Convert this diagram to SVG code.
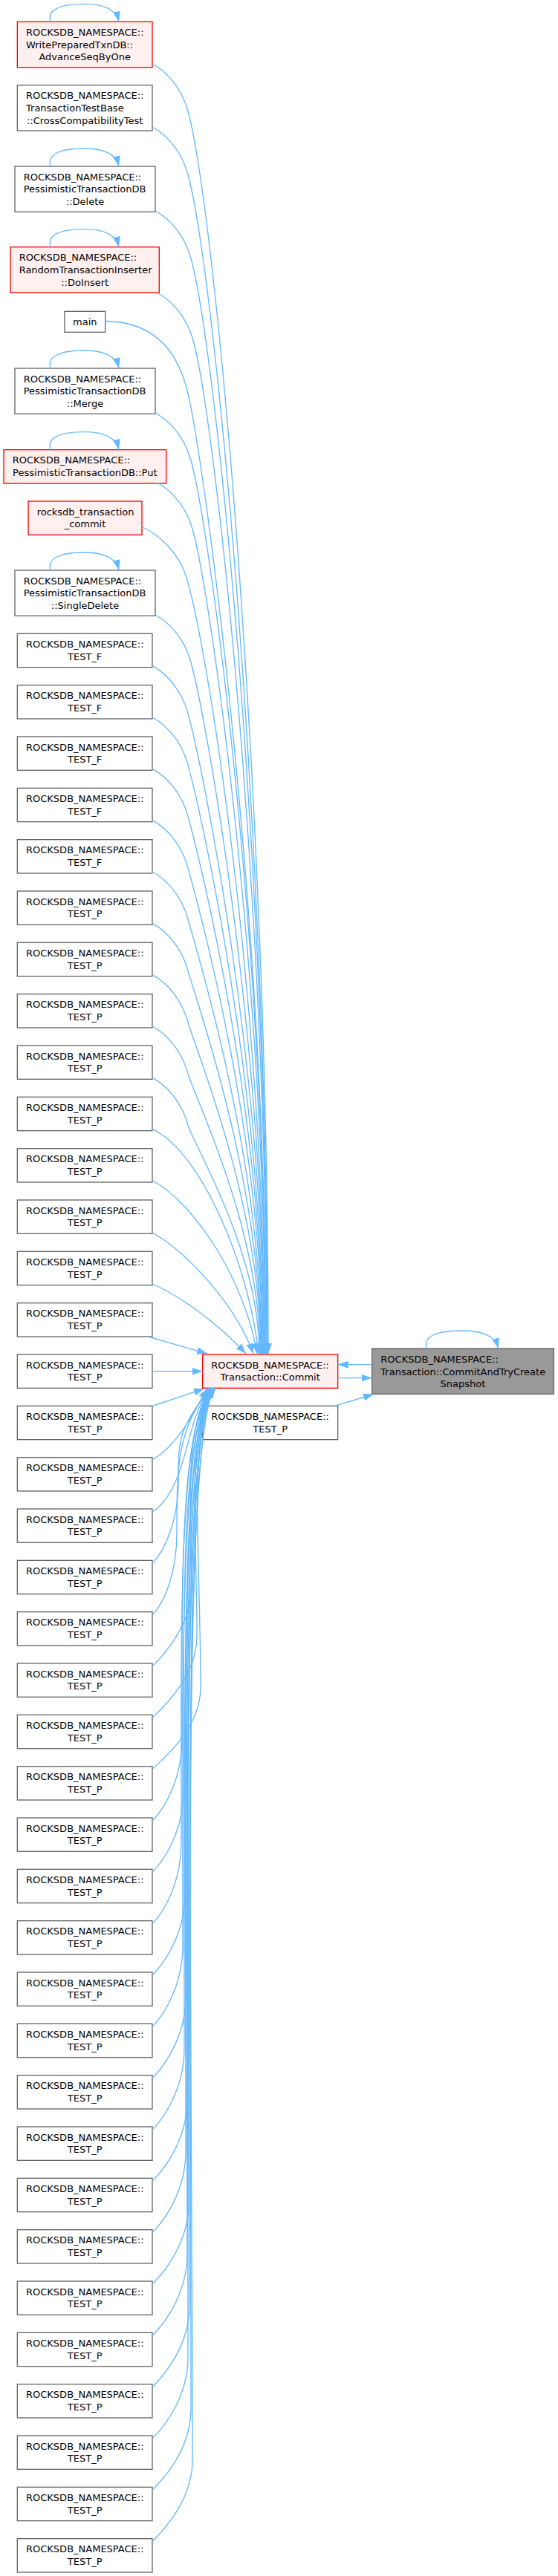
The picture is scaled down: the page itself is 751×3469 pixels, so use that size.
<svg xmlns="http://www.w3.org/2000/svg" width="751" height="3469" viewBox="0 0 751 3469">
<style>
.n{fill:#ffffff;stroke:#666666;stroke-width:1.33}
.r{fill:#fff0f0;stroke:#ff0000;stroke-width:1.33}
.g{fill:#999999;stroke:#666666;stroke-width:1.33}
text{font-family:"DejaVu Sans",sans-serif;font-size:13px;fill:#000000}
.m{text-anchor:middle}
.e{fill:none;stroke:#63b8ff;stroke-width:1.33;marker-end:url(#ah)}
</style>
<defs>
<marker id="ah" markerUnits="userSpaceOnUse" markerWidth="14" markerHeight="10" viewBox="0 0 14 10" refX="14" refY="5" orient="auto">
<path d="M0,0 L14,5 L0,10 z" fill="#63b8ff"/>
</marker>
</defs>
<rect width="751" height="3469" fill="#ffffff"/>

<g id="nodes">
<g id="advance"><rect class="r" x="23.33" y="29.33" width="181.67" height="61.33"/><text x="35" y="47.8">ROCKSDB_NAMESPACE::</text><text x="35" y="64.6">WritePreparedTxnDB::</text><text class="m" x="114.17" y="81.3">AdvanceSeqByOne</text></g>
<g id="crosscompat"><rect class="n" x="23.33" y="114.67" width="181.67" height="61.33"/><text x="35" y="133.2">ROCKSDB_NAMESPACE::</text><text x="35" y="149.9">TransactionTestBase</text><text class="m" x="114.17" y="166.7">::CrossCompatibilityTest</text></g>
<g id="delete"><rect class="n" x="20" y="224" width="189" height="61.33"/><text x="31.67" y="242.5">ROCKSDB_NAMESPACE::</text><text x="31.67" y="259.25">PessimisticTransactionDB</text><text class="m" x="114.5" y="276">::Delete</text></g>
<g id="doinsert"><rect class="r" x="14" y="332.67" width="200.33" height="61.33"/><text x="25.67" y="351.2">ROCKSDB_NAMESPACE::</text><text x="25.67" y="367.9">RandomTransactionInserter</text><text class="m" x="114.17" y="384.7">::DoInsert</text></g>
<g id="main"><rect class="n" x="87" y="419.33" width="54.67" height="28"/><text class="m" x="114.33" y="437.6">main</text></g>
<g id="merge"><rect class="n" x="20" y="496" width="189" height="61.33"/><text x="31.67" y="514.5">ROCKSDB_NAMESPACE::</text><text x="31.67" y="531.25">PessimisticTransactionDB</text><text class="m" x="114.5" y="548">::Merge</text></g>
<g id="put"><rect class="r" x="5" y="605.67" width="218.67" height="45.33"/><text x="16.67" y="624.3">ROCKSDB_NAMESPACE::</text><text class="m" x="114.33" y="641">PessimisticTransactionDB::Put</text></g>
<g id="rtc"><rect class="r" x="38" y="675" width="153" height="45.33"/><text x="49.67" y="693.6">rocksdb_transaction</text><text class="m" x="114.5" y="710.35">_commit</text></g>
<g id="singledelete"><rect class="n" x="20" y="768" width="189" height="61.33"/><text x="31.67" y="786.5">ROCKSDB_NAMESPACE::</text><text x="31.67" y="803.25">PessimisticTransactionDB</text><text class="m" x="114.5" y="820">::SingleDelete</text></g>

<g id="t0"><rect class="n" x="23.33" y="853.33" width="181.67" height="45.33"/><text x="35" y="871.9">ROCKSDB_NAMESPACE::</text><text class="m" x="114.17" y="888.7">TEST_F</text></g>
<g id="t1"><rect class="n" x="23.33" y="922.67" width="181.67" height="45.33"/><text x="35" y="941.3">ROCKSDB_NAMESPACE::</text><text class="m" x="114.17" y="958">TEST_F</text></g>
<g id="t2"><rect class="n" x="23.33" y="992" width="181.67" height="45.33"/><text x="35" y="1010.6">ROCKSDB_NAMESPACE::</text><text class="m" x="114.17" y="1027.35">TEST_F</text></g>
<g id="t3"><rect class="n" x="23.33" y="1061.33" width="181.67" height="45.33"/><text x="35" y="1079.9">ROCKSDB_NAMESPACE::</text><text class="m" x="114.17" y="1096.7">TEST_F</text></g>
<g id="t4"><rect class="n" x="23.33" y="1130.67" width="181.67" height="45.33"/><text x="35" y="1149.3">ROCKSDB_NAMESPACE::</text><text class="m" x="114.17" y="1166">TEST_F</text></g>
<g id="t5"><rect class="n" x="23.33" y="1200" width="181.67" height="45.33"/><text x="35" y="1218.6">ROCKSDB_NAMESPACE::</text><text class="m" x="114.17" y="1235.35">TEST_P</text></g>
<g id="t6"><rect class="n" x="23.33" y="1269.33" width="181.67" height="45.33"/><text x="35" y="1287.9">ROCKSDB_NAMESPACE::</text><text class="m" x="114.17" y="1304.7">TEST_P</text></g>
<g id="t7"><rect class="n" x="23.33" y="1338.67" width="181.67" height="45.33"/><text x="35" y="1357.3">ROCKSDB_NAMESPACE::</text><text class="m" x="114.17" y="1374">TEST_P</text></g>
<g id="t8"><rect class="n" x="23.33" y="1408" width="181.67" height="45.33"/><text x="35" y="1426.6">ROCKSDB_NAMESPACE::</text><text class="m" x="114.17" y="1443.35">TEST_P</text></g>
<g id="t9"><rect class="n" x="23.33" y="1477.33" width="181.67" height="45.33"/><text x="35" y="1495.9">ROCKSDB_NAMESPACE::</text><text class="m" x="114.17" y="1512.7">TEST_P</text></g>
<g id="t10"><rect class="n" x="23.33" y="1546.67" width="181.67" height="45.33"/><text x="35" y="1565.3">ROCKSDB_NAMESPACE::</text><text class="m" x="114.17" y="1582">TEST_P</text></g>
<g id="t11"><rect class="n" x="23.33" y="1616" width="181.67" height="45.33"/><text x="35" y="1634.6">ROCKSDB_NAMESPACE::</text><text class="m" x="114.17" y="1651.35">TEST_P</text></g>
<g id="t12"><rect class="n" x="23.33" y="1685.33" width="181.67" height="45.33"/><text x="35" y="1703.9">ROCKSDB_NAMESPACE::</text><text class="m" x="114.17" y="1720.7">TEST_P</text></g>
<g id="t13"><rect class="n" x="23.33" y="1754.67" width="181.67" height="45.33"/><text x="35" y="1773.3">ROCKSDB_NAMESPACE::</text><text class="m" x="114.17" y="1790">TEST_P</text></g>
<g id="t14"><rect class="n" x="23.33" y="1824" width="181.67" height="45.33"/><text x="35" y="1842.6">ROCKSDB_NAMESPACE::</text><text class="m" x="114.17" y="1859.35">TEST_P</text></g>
<g id="t15"><rect class="n" x="23.33" y="1893.33" width="181.67" height="45.33"/><text x="35" y="1911.9">ROCKSDB_NAMESPACE::</text><text class="m" x="114.17" y="1928.7">TEST_P</text></g>
<g id="t16"><rect class="n" x="23.33" y="1962.67" width="181.67" height="45.33"/><text x="35" y="1981.3">ROCKSDB_NAMESPACE::</text><text class="m" x="114.17" y="1998">TEST_P</text></g>
<g id="t17"><rect class="n" x="23.33" y="2032" width="181.67" height="45.33"/><text x="35" y="2050.6">ROCKSDB_NAMESPACE::</text><text class="m" x="114.17" y="2067.35">TEST_P</text></g>
<g id="t18"><rect class="n" x="23.33" y="2101.33" width="181.67" height="45.33"/><text x="35" y="2119.9">ROCKSDB_NAMESPACE::</text><text class="m" x="114.17" y="2136.7">TEST_P</text></g>
<g id="t19"><rect class="n" x="23.33" y="2170.67" width="181.67" height="45.33"/><text x="35" y="2189.3">ROCKSDB_NAMESPACE::</text><text class="m" x="114.17" y="2206">TEST_P</text></g>
<g id="t20"><rect class="n" x="23.33" y="2240" width="181.67" height="45.33"/><text x="35" y="2258.6">ROCKSDB_NAMESPACE::</text><text class="m" x="114.17" y="2275.35">TEST_P</text></g>
<g id="t21"><rect class="n" x="23.33" y="2309.33" width="181.67" height="45.33"/><text x="35" y="2327.9">ROCKSDB_NAMESPACE::</text><text class="m" x="114.17" y="2344.7">TEST_P</text></g>
<g id="t22"><rect class="n" x="23.33" y="2378.67" width="181.67" height="45.33"/><text x="35" y="2397.3">ROCKSDB_NAMESPACE::</text><text class="m" x="114.17" y="2414">TEST_P</text></g>
<g id="t23"><rect class="n" x="23.33" y="2448" width="181.67" height="45.33"/><text x="35" y="2466.6">ROCKSDB_NAMESPACE::</text><text class="m" x="114.17" y="2483.35">TEST_P</text></g>
<g id="t24"><rect class="n" x="23.33" y="2517.33" width="181.67" height="45.33"/><text x="35" y="2535.9">ROCKSDB_NAMESPACE::</text><text class="m" x="114.17" y="2552.7">TEST_P</text></g>
<g id="t25"><rect class="n" x="23.33" y="2586.67" width="181.67" height="45.33"/><text x="35" y="2605.3">ROCKSDB_NAMESPACE::</text><text class="m" x="114.17" y="2622">TEST_P</text></g>
<g id="t26"><rect class="n" x="23.33" y="2656" width="181.67" height="45.33"/><text x="35" y="2674.6">ROCKSDB_NAMESPACE::</text><text class="m" x="114.17" y="2691.35">TEST_P</text></g>
<g id="t27"><rect class="n" x="23.33" y="2725.33" width="181.67" height="45.33"/><text x="35" y="2743.9">ROCKSDB_NAMESPACE::</text><text class="m" x="114.17" y="2760.7">TEST_P</text></g>
<g id="t28"><rect class="n" x="23.33" y="2794.67" width="181.67" height="45.33"/><text x="35" y="2813.3">ROCKSDB_NAMESPACE::</text><text class="m" x="114.17" y="2830">TEST_P</text></g>
<g id="t29"><rect class="n" x="23.33" y="2864" width="181.67" height="45.33"/><text x="35" y="2882.6">ROCKSDB_NAMESPACE::</text><text class="m" x="114.17" y="2899.35">TEST_P</text></g>
<g id="t30"><rect class="n" x="23.33" y="2933.33" width="181.67" height="45.33"/><text x="35" y="2951.9">ROCKSDB_NAMESPACE::</text><text class="m" x="114.17" y="2968.7">TEST_P</text></g>
<g id="t31"><rect class="n" x="23.33" y="3002.67" width="181.67" height="45.33"/><text x="35" y="3021.3">ROCKSDB_NAMESPACE::</text><text class="m" x="114.17" y="3038">TEST_P</text></g>
<g id="t32"><rect class="n" x="23.33" y="3072" width="181.67" height="45.33"/><text x="35" y="3090.6">ROCKSDB_NAMESPACE::</text><text class="m" x="114.17" y="3107.35">TEST_P</text></g>
<g id="t33"><rect class="n" x="23.33" y="3141.33" width="181.67" height="45.33"/><text x="35" y="3159.9">ROCKSDB_NAMESPACE::</text><text class="m" x="114.17" y="3176.7">TEST_P</text></g>
<g id="t34"><rect class="n" x="23.33" y="3210.67" width="181.67" height="45.33"/><text x="35" y="3229.3">ROCKSDB_NAMESPACE::</text><text class="m" x="114.17" y="3246">TEST_P</text></g>
<g id="t35"><rect class="n" x="23.33" y="3280" width="181.67" height="45.33"/><text x="35" y="3298.6">ROCKSDB_NAMESPACE::</text><text class="m" x="114.17" y="3315.35">TEST_P</text></g>
<g id="t36"><rect class="n" x="23.33" y="3349.33" width="181.67" height="45.33"/><text x="35" y="3367.9">ROCKSDB_NAMESPACE::</text><text class="m" x="114.17" y="3384.7">TEST_P</text></g>
<g id="t37"><rect class="n" x="23.33" y="3418.67" width="181.67" height="45.33"/><text x="35" y="3437.3">ROCKSDB_NAMESPACE::</text><text class="m" x="114.17" y="3454">TEST_P</text></g>

<g id="commit"><rect class="r" x="272.67" y="1824" width="182" height="45.33"/><text x="284.33" y="1842.6">ROCKSDB_NAMESPACE::</text><text class="m" x="363.67" y="1859.35">Transaction::Commit</text></g>
<g id="tmid"><rect class="n" x="272.67" y="1893.33" width="182" height="45.33"/><text x="284.33" y="1911.9">ROCKSDB_NAMESPACE::</text><text class="m" x="363.67" y="1928.7">TEST_P</text></g>
<g id="root"><rect class="g" x="500.67" y="1816" width="244.67" height="61.33"/><text x="512.33" y="1835">ROCKSDB_NAMESPACE::</text><text x="512.33" y="1851.5">Transaction::CommitAndTryCreate</text><text class="m" x="623" y="1868">Snapshot</text></g>
</g>

<g id="connectors">
<path class="e" d="M68,29.33 C63,13.33 80,5.33 114,5.33 C140,5.33 156,12.33 160,29.33"/>
<path class="e" d="M68,224 C63,208 80,200 114,200 C140,200 156,207 160,224"/>
<path class="e" d="M68,332.67 C63,316.67 80,308.67 114,308.67 C140,308.67 156,315.67 160,332.67"/>
<path class="e" d="M68,496 C63,480 80,472 114,472 C140,472 156,479 160,496"/>
<path class="e" d="M68,605.67 C63,589.67 80,581.67 114,581.67 C140,581.67 156,588.67 160,605.67"/>
<path class="e" d="M68,768 C63,752 80,744 114,744 C140,744 156,751 160,768"/>
<path class="e" d="M574.3,1816 C569,1800 586,1792 622.5,1792 C650,1792 666,1799 670.7,1816"/>

<path class="e" d="M500.67,1837.7 L454.67,1837.7"/>
<path class="e" d="M454.67,1855.7 L500.67,1855.7"/>
<path class="e" d="M450,1893.33 L503,1877.5"/>

<path class="e" d="M205,86 C227,98 245,121 253,150 C290,284 361,1070 361,1823"/>
<path class="e" d="M205,171 C227,183 245,206 253,235 C288,362 360,1108 360,1823"/>
<path class="e" d="M209,284 C231,296 249,319 257,348 C290,466 359.5,1159 359.5,1823"/>
<path class="e" d="M212,394.5 C234,406.5 252,429.5 260,458.5 C290,567.5 359,1209 359,1823"/>
<path class="e" d="M141.67,432.5 C200,433 238,465 253,530 C276.7,633 358,1241 358,1823"/>
<path class="e" d="M209,556 C231,568 249,591 257,620 C283.5,716 357.5,1282 357.5,1823"/>
<path class="e" d="M211.5,650 C233.5,662 251.5,685 259.5,714 C284,803 357,1324 357,1823"/>
<path class="e" d="M191,709.5 C215,720 240,745 250,775 C277.7,859 356,1351 356,1823"/>
<path class="e" d="M209,828 C231,840 249,863 257,892 C277.6,966.5 355.5,1404 355.5,1823"/>
<path class="e" d="M205,896.67 C227,908.67 245,931.67 253,960.67 C272,1029.7 355,1435 355,1823"/>
<path class="e" d="M205,966 C227,978 245,1001 253,1030 C270.5,1093.4 354,1466 354,1823"/>
<path class="e" d="M205,1035.33 C227,1047.33 245,1070.33 253,1099.33 C269,1157.2 353.5,1497.3 353.5,1823"/>
<path class="e" d="M205,1104.67 C227,1116.67 245,1139.67 253,1168.67 C267.4,1221 353,1528.6 353,1823"/>
<path class="e" d="M205,1174 C227,1186 245,1209 253,1238 C265.9,1284.8 352,1560 352,1823"/>
<path class="e" d="M205,1243.33 C227,1255.33 245,1278.33 253,1307.33 C264.4,1348.6 351.5,1591 351.5,1823"/>
<path class="e" d="M205,1312.67 C227,1324.67 245,1347.67 253,1376.67 C262.9,1412.4 351,1622.1 351,1823"/>
<path class="e" d="M205,1382 C227,1394 245,1417 253,1446 C261.3,1476.2 350,1653.3 350,1823"/>
<path class="e" d="M205,1451.33 C227,1463.33 245,1486.33 253,1515.33 C259.8,1539.9 349,1684.5 349,1823"/>
<path class="e" d="M205,1520.67 C268,1548 335,1700 348,1823"/>
<path class="e" d="M205,1590 C262,1620 330,1725 346,1823"/>
<path class="e" d="M205,1660 C250,1685 316,1755 341,1823"/>
<path class="e" d="M205,1729 C245,1746 297,1786 331,1823"/>
<path class="e" d="M201,1800.5 L279,1823"/>
<path class="e" d="M205,1846.67 L272.67,1846.67"/>
<path class="e" d="M205,1893.5 L275,1870"/>
<path class="e" d="M205,1966 C240,1946 262,1900 279,1869.5"/>
<path class="e" d="M205,2036 C238,2015 248,1960 258,1925 C265,1900 272,1885 281,1869.5"/>
<path class="e" d="M205,2105.33 C220,2090.33 240,2050.33 240,1995.33 C240,1938.9 240,1925 283,1869.5"/>
<path class="e" d="M205,2174.67 C220,2159.67 238,2119.67 238,2064.67 C238,1977.1 238,1925 282,1869.5"/>
<path class="e" d="M205,2244 C220,2229 258,2189 258,2134 C258,2015.2 246,1925 286,1869.5"/>
<path class="e" d="M205,2313.33 C220,2298.33 265,2258.33 265,2203.33 C265,2053.3 250,1925 288,1869.5"/>
<path class="e" d="M205,2382.67 C220,2367.67 270,2327.67 270,2272.67 C270,2091.5 252,1925 290,1869.5"/>
<path class="e" d="M205,2452 C220,2437 245,2397 245,2342 C245,2129.6 242,1925 284,1869.5"/>
<path class="e" d="M205,2521.33 C220,2506.33 247,2466.33 247,2411.33 C247,2167.7 244,1925 285,1869.5"/>
<path class="e" d="M205,2590.67 C220,2575.67 244,2535.67 244,2480.67 C244,2205.9 239,1925 283,1869.5"/>
<path class="e" d="M205,2660 C220,2645 249,2605 249,2550 C249,2244 245,1925 286,1869.5"/>
<path class="e" d="M205,2729.33 C220,2714.33 246,2674.33 246,2619.33 C246,2282.1 241,1925 284,1869.5"/>
<path class="e" d="M205,2798.67 C220,2783.67 250,2743.67 250,2688.67 C250,2320.3 247,1925 287,1869.5"/>
<path class="e" d="M205,2868 C220,2853 248,2813 248,2758 C248,2358.4 243,1925 285,1869.5"/>
<path class="e" d="M205,2937.33 C220,2922.33 252,2882.33 252,2827.33 C252,2396.5 248,1925 288,1869.5"/>
<path class="e" d="M205,3006.67 C220,2991.67 250,2951.67 250,2896.67 C250,2434.7 240,1925 284,1869.5"/>
<path class="e" d="M205,3076 C220,3061 254,3021 254,2966 C254,2472.8 246,1925 287,1869.5"/>
<path class="e" d="M205,3145.33 C220,3130.33 252,3090.33 252,3035.33 C252,2511 242,1925 285,1869.5"/>
<path class="e" d="M205,3214.67 C220,3199.67 255,3159.67 255,3104.67 C255,2549.1 249,1925 289,1869.5"/>
<path class="e" d="M205,3284 C220,3269 253,3229 253,3174 C253,2587.2 244,1925 286,1869.5"/>
<path class="e" d="M205,3353.33 C220,3338.33 257,3298.33 257,3243.33 C257,2625.3 247,1925 288,1869.5"/>
<path class="e" d="M205,3422.67 C220,3407.67 259,3367.67 259,3312.67 C259,2663.5 243,1925 286,1869.5"/>
</g>
</svg>
